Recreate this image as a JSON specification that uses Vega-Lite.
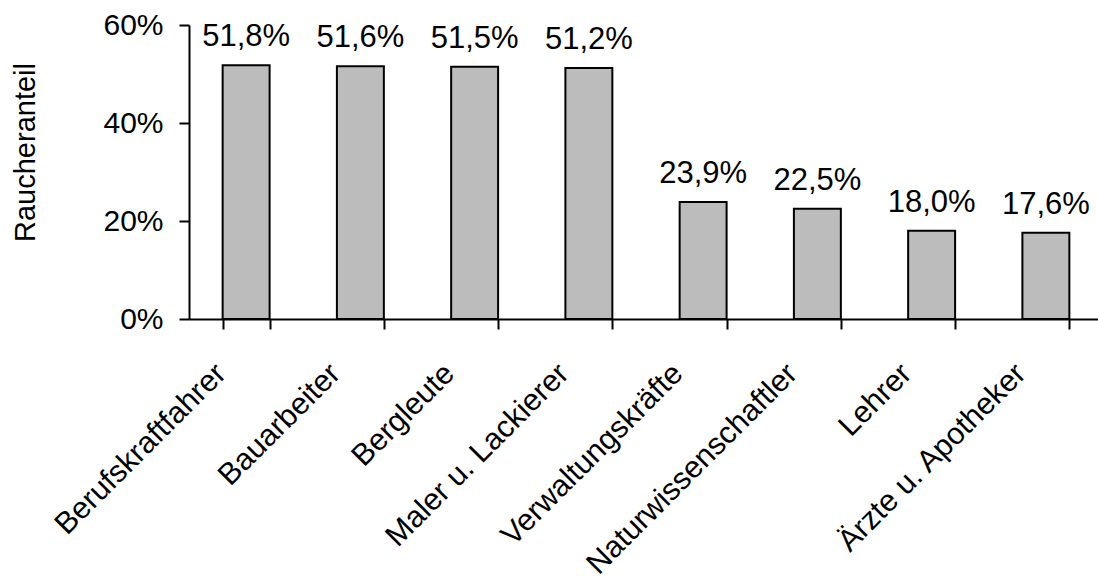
{
  "$schema": "https://vega.github.io/schema/vega-lite/v6.json",
  "width": 909,
  "height": 294,
  "autosize": {"type": "none"},
  "padding": {"left": 189, "top": 25, "right": 0, "bottom": 264},
  "background": "white",
  "data": {
    "values": [
      {"beruf": "Berufskraftfahrer", "anteil": 0.518},
      {"beruf": "Bauarbeiter", "anteil": 0.516},
      {"beruf": "Bergleute", "anteil": 0.515},
      {"beruf": "Maler u. Lackierer", "anteil": 0.512},
      {"beruf": "Verwaltungskräfte", "anteil": 0.239},
      {"beruf": "Naturwissenschaftler", "anteil": 0.225},
      {"beruf": "Lehrer", "anteil": 0.18},
      {"beruf": "Ärzte u. Apotheker", "anteil": 0.176}
    ]
  },
  "encoding": {
    "x": {
      "field": "beruf",
      "type": "nominal",
      "sort": null,
      "scale": {"range": [0, 914], "paddingInner": 0.589, "paddingOuter": 0.2945},
      "axis": {
        "title": null,
        "tickBand": "extent",
        "labelAngle": -45,
        "labelAlign": "right",
        "labelBaseline": "top",
        "labelFontSize": 30.5,
        "labelLimit": 500,
        "labelPadding": 29,
        "labelOffset": -36,
        "tickSize": 10
      }
    },
    "y": {
      "field": "anteil",
      "type": "quantitative",
      "scale": {"domain": [0, 0.6], "nice": false},
      "axis": {
        "title": "Raucheranteil",
        "format": ".0%",
        "values": [0, 0.2, 0.4, 0.6],
        "grid": false,
        "tickSize": 10,
        "labelFontSize": 30,
        "labelPadding": 16,
        "titleFontSize": 29,
        "titleFontWeight": "normal",
        "titleAngle": -90,
        "titleAlign": "center",
        "titleBaseline": "middle",
        "titleX": -164,
        "titleY": 127
      }
    }
  },
  "layer": [
    {
      "mark": {"type": "bar", "fill": "#bcbcbc", "stroke": "black", "strokeWidth": 2}
    },
    {
      "mark": {"type": "text", "baseline": "alphabetic", "dy": -19, "fontSize": 31, "font": "Liberation Sans", "color": "black"},
      "encoding": {"text": {"field": "anteil", "type": "quantitative", "format": ".1%"}}
    }
  ],
  "config": {
    "locale": {"number": {"decimal": ",", "thousands": ".", "grouping": [3], "currency": ["", " €"]}},
    "font": "Liberation Sans",
    "view": {"stroke": null},
    "axis": {
      "labelFont": "Liberation Sans",
      "titleFont": "Liberation Sans",
      "labelColor": "black",
      "titleColor": "black",
      "domainColor": "black",
      "tickColor": "black",
      "domainWidth": 2,
      "tickWidth": 2
    }
  }
}
